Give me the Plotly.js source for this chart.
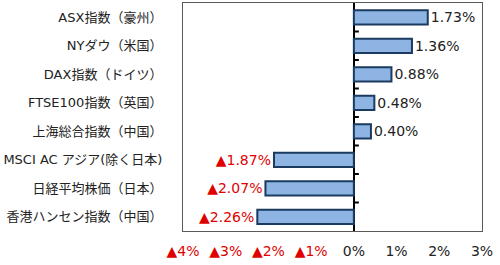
<!DOCTYPE html>
<html>
<head>
<meta charset="utf-8">
<script src="https://cdn.plot.ly/plotly-3.0.1.min.js"></script>
<style>html,body{margin:0;padding:0;background:#fff}#chart{width:500px;height:265px}</style>
</head>
<body>
<div id="chart"></div>
<script>
const categories = ["ASX指数（豪州）","NYダウ（米国）","DAX指数（ドイツ）","FTSE100指数（英国）","上海総合指数（中国）","MSCI AC アジア(除く日本)","日経平均株価（日本）","香港ハンセン指数（中国）"];
const values = [1.73, 1.36, 0.88, 0.48, 0.40, -1.87, -2.07, -2.26];
const xTickVals = [-4, -3, -2, -1, 0, 1, 2, 3];

const RED = "#e00000";
const W = 500, H = 265, M = {l: 183, r: 18, t: 3, b: 34};
const fmt = v => v < 0 ? "▲" + Math.abs(v).toFixed(2) + "%" : v.toFixed(2) + "%";
const tickText = xTickVals.map(v => v < 0 ? '<span style="color:' + RED + '">▲' + Math.abs(v) + '%</span>' : v + '%');
const xMin = xTickVals[0], xMax = xTickVals[xTickVals.length - 1];
const FONT = "DejaVu Sans, Noto Sans CJK JP, sans-serif";

const bars = {
  type: "bar",
  orientation: "h",
  x: values,
  y: categories,
  width: 0.5,
  marker: {color: "#8db4e2", line: {color: "#1b3a5f", width: 2}},
  text: values.map(fmt),
  textposition: "outside",
  constraintext: "none",
  textfont: {family: FONT, size: 14, color: values.map(v => v < 0 ? RED : "#222")},
  cliponaxis: false,
  hoverinfo: "skip"
};

// short tick marks on the zero axis at the category boundaries (5 px long)
const tickLen = 5 * (xMax - xMin) / (W - M.l - M.r);
const tx = [], ty = [];
categories.slice(1).forEach((c, i) => { tx.push(0, tickLen, null); ty.push(i + 0.5, i + 0.5, null); });
const boundaryTicks = {
  type: "scatter", mode: "lines", x: tx, y: ty, yaxis: "y2",
  line: {color: "#000", width: 2}, cliponaxis: false,
  showlegend: false, hoverinfo: "skip"
};

const layout = {
  width: W, height: H,
  margin: M,
  paper_bgcolor: "#fff", plot_bgcolor: "#fff",
  showlegend: false,
  font: {family: FONT, size: 13, color: "#222"},
  xaxis: {
    range: [xMin, xMax], tickvals: xTickVals, ticktext: tickText,
    showgrid: false, zeroline: true, zerolinecolor: "#000", zerolinewidth: 2,
    showline: true, mirror: true,
    linecolor: "#5a5a5a", linewidth: 1, ticks: "", ticklabelstandoff: 7,
    tickfont: {size: 14, family: FONT}, fixedrange: true
  },
  yaxis: {
    type: "category", categoryarray: categories, autorange: "reversed",
    showgrid: false, zeroline: false, showline: true, mirror: true,
    linecolor: "#5a5a5a", linewidth: 1, ticks: "", ticklabelstandoff: 17,
    tickfont: {size: 13, family: FONT}, fixedrange: true
  },
  yaxis2: {
    type: "linear", overlaying: "y", visible: false,
    range: [categories.length - 0.5, -0.5], fixedrange: true
  },
  bargap: 0.5
};

Plotly.newPlot("chart", [bars, boundaryTicks], layout, {staticPlot: true, displayModeBar: false});
</script>
</body>
</html>
